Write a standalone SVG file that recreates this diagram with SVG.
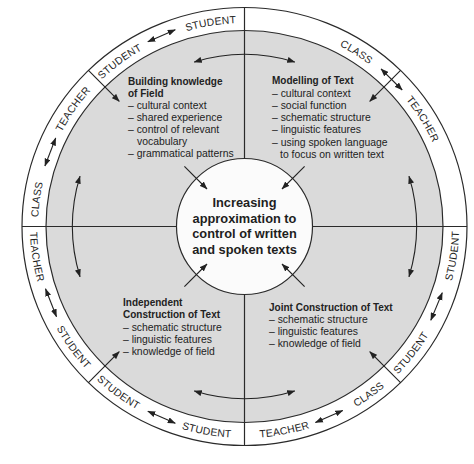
<svg xmlns="http://www.w3.org/2000/svg" width="474" height="464" viewBox="0 0 474 464">
<defs>
<marker id="ah" viewBox="0 0 8 6" refX="7.5" refY="3" markerWidth="8" markerHeight="6.5" markerUnits="userSpaceOnUse" orient="auto-start-reverse">
<path d="M0,0 L8,3 L0,6 z" fill="#222"/>
</marker>
<path id="tp" d="M38,226.5 A206.5,203.5 0 0 1 451,226.5 A206.5,203.5 0 0 1 38,226.5"/>
<path id="bp" d="M30,226.5 A214.5,211.5 0 0 0 459,226.5 A214.5,211.5 0 0 0 30,226.5"/>
</defs>
<style>
.ln{fill:none;stroke:#2a2a2a;stroke-width:1.2}
.ar{fill:none;stroke:#222;stroke-width:1.1;marker-end:url(#ah)}
.da{fill:none;stroke:#222;stroke-width:1.1;marker-start:url(#ah);marker-end:url(#ah)}
.lb{font-family:"Liberation Sans",Arial,sans-serif;font-size:10.4px;fill:#1e1e1e;letter-spacing:0.2px}
.tx{font-family:"Liberation Sans",Arial,sans-serif;font-size:10.4px;fill:#222}
.hd{font-weight:bold;font-size:10px}
.ct{font-family:"Liberation Sans",Arial,sans-serif;font-size:12.8px;font-weight:bold;fill:#1e1e1e;text-anchor:middle}
</style>
<rect width="474" height="464" fill="#ffffff"/>
<g id="rings">
<ellipse cx="244.5" cy="226.5" rx="222.5" ry="219" fill="#fbfbfb" class="ln"/>
<ellipse cx="244.5" cy="226.5" rx="198.5" ry="196" fill="#dadada" stroke="#2a2a2a" stroke-width="1.2"/>
<circle cx="244.5" cy="226.5" r="68" fill="#fbfbfb" stroke="#2a2a2a" stroke-width="1.2"/>
</g>
<g id="connectors">
<line class="ln" x1="244.5" y1="7.5" x2="244.5" y2="158.5"/>
<line class="ln" x1="244.5" y1="294.5" x2="244.5" y2="445.5"/>
<line class="ln" x1="22" y1="226.5" x2="176.5" y2="226.5"/>
<line class="ln" x1="312.5" y1="226.5" x2="467" y2="226.5"/>
<line class="ar" x1="88.2" y1="70.2" x2="119.3" y2="101.3"/>
<line class="ar" x1="400.8" y1="70.2" x2="369.7" y2="101.3"/>
<line class="ar" x1="88.2" y1="382.8" x2="119.3" y2="351.7"/>
<line class="ar" x1="400.8" y1="382.8" x2="369.7" y2="351.7"/>
<line class="ar" x1="184.4" y1="166.4" x2="207" y2="189"/>
<line class="ar" x1="304.6" y1="166.4" x2="282" y2="189"/>
<line class="ar" x1="184.4" y1="286.6" x2="207" y2="264"/>
<line class="ar" x1="304.6" y1="286.6" x2="282" y2="264"/>
<line class="da" x1="147.8" y1="41.7" x2="175.3" y2="29.8"/>
<line class="da" x1="44.9" y1="166" x2="55.7" y2="138"/>
<line class="da" x1="45.5" y1="288.8" x2="56.5" y2="316.7"/>
<line class="da" x1="147.8" y1="411.3" x2="175.3" y2="423.2"/>
<line class="da" x1="315.4" y1="422.6" x2="342.8" y2="410.4"/>
<line class="da" x1="430.8" y1="320.3" x2="442.3" y2="292.6"/>
<line class="da" x1="381" y1="68.8" x2="402.2" y2="90"/>
<path class="da" d="M194.2,62 A172,172 0 0 1 294.8,62"/>
<path class="da" d="M409,176.2 A172,172 0 0 1 409,276.8"/>
<path class="da" d="M294.8,391 A172,172 0 0 1 194.2,391"/>
<path class="da" d="M80,276.8 A172,172 0 0 1 80,176.2"/>
</g>
<g id="band-labels">
<text class="lb" text-anchor="middle"><textPath href="#tp" startOffset="22.39%">STUDENT</textPath></text>
<text class="lb" text-anchor="middle"><textPath href="#tp" startOffset="14.75%">STUDENT</textPath></text>
<text class="lb" text-anchor="middle"><textPath href="#tp" startOffset="9.61%">TEACHER</textPath></text>
<text class="lb" text-anchor="middle"><textPath href="#tp" startOffset="2.08%">CLASS</textPath></text>
<text class="lb" text-anchor="middle"><textPath href="#tp" startOffset="34.03%">CLASS</textPath></text>
<text class="lb" text-anchor="middle"><textPath href="#tp" startOffset="41.32%">TEACHER</textPath></text>
<text class="lb" text-anchor="middle"><textPath href="#bp" startOffset="47.75%">STUDENT</textPath></text>
<text class="lb" text-anchor="middle"><textPath href="#bp" startOffset="39.61%">STUDENT</textPath></text>
<text class="lb" text-anchor="middle"><textPath href="#bp" startOffset="35.08%">CLASS</textPath></text>
<text class="lb" text-anchor="middle"><textPath href="#bp" startOffset="28.06%">TEACHER</textPath></text>
<text class="lb" text-anchor="middle"><textPath href="#bp" startOffset="2.33%">TEACHER</textPath></text>
<text class="lb" text-anchor="middle"><textPath href="#bp" startOffset="9.83%">STUDENT</textPath></text>
<text class="lb" text-anchor="middle"><textPath href="#bp" startOffset="14.72%">STUDENT</textPath></text>
<text class="lb" text-anchor="middle"><textPath href="#bp" startOffset="22.11%">STUDENT</textPath></text>
</g>
<g id="field">
<text class="tx" x="128" y="85"><tspan class="hd">Building knowledge</tspan><tspan class="hd" x="128" y="97">of Field</tspan><tspan x="128" y="109">– cultural context</tspan><tspan x="128" y="121">– shared experience</tspan><tspan x="128" y="133">– control of relevant</tspan><tspan x="137" y="145">vocabulary</tspan><tspan x="128" y="157">– grammatical patterns</tspan></text>
</g>
<g id="modelling">
<text class="tx" x="272" y="84"><tspan class="hd">Modelling of Text</tspan><tspan x="272" y="96.5">– cultural context</tspan><tspan x="272" y="109">– social function</tspan><tspan x="272" y="121">– schematic structure</tspan><tspan x="272" y="133.3">– linguistic features</tspan><tspan x="272" y="145.7">– using spoken language</tspan><tspan x="280" y="158">to focus on written text</tspan></text>
</g>
<g id="independent">
<text class="tx" x="123" y="306"><tspan class="hd">Independent</tspan><tspan class="hd" x="123" y="318.3">Construction of Text</tspan><tspan x="123" y="331">– schematic structure</tspan><tspan x="123" y="343.2">– linguistic features</tspan><tspan x="123" y="355.4">– knowledge of field</tspan></text>
</g>
<g id="joint">
<text class="tx" x="269" y="311"><tspan class="hd">Joint Construction of Text</tspan><tspan x="269" y="323">– schematic structure</tspan><tspan x="269" y="335">– linguistic features</tspan><tspan x="269" y="347">– knowledge of field</tspan></text>
</g>
<g id="centre">
<text class="ct" x="244.5" y="206.7">Increasing</text>
<text class="ct" x="244.5" y="222.5">approximation to</text>
<text class="ct" x="244.5" y="238.3">control of written</text>
<text class="ct" x="244.5" y="254">and spoken texts</text>
</g>
</svg>
